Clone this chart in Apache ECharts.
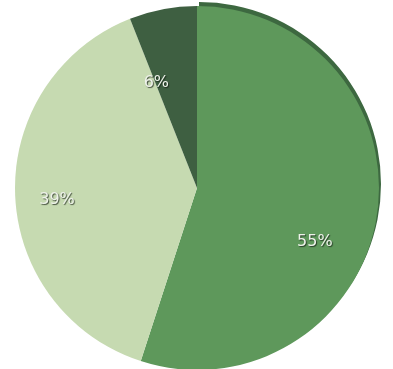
<!DOCTYPE html>
<html>
<head>
<meta charset="utf-8">
<script src="https://cdn.jsdelivr.net/npm/echarts@6/dist/echarts.min.js"></script>
<style>
  html, body { margin: 0; padding: 0; background: #fff; }
  #pie { width: 393px; height: 369px; }
</style>
</head>
<body>
<div id="pie"></div>
<script>
// slice data, clockwise from 12 o'clock
var names = ['A', 'B', 'C'];
var values = [55, 39, 6];
var colors = ['#5e985b', '#c6dab1', '#3e5f41'];
// label nudges away from the default mid-radius spot
var labelNudge = [[25, 39], [-46, 9], [-23, -13]];

var myChart = echarts.init(document.getElementById('pie'));

var seriesData = values.map(function (v, i) {
    var item = {
        name: names[i],
        value: v,
        itemStyle: { color: colors[i] }
    };
    if (i === 0) {
        // thin dark rim on the upper right edge
        item.itemStyle.shadowColor = '#3d6840';
        item.itemStyle.shadowOffsetX = 2;
        item.itemStyle.shadowOffsetY = -4;
        item.itemStyle.shadowBlur = 0;
    }
    return item;
});

var option = {
    animation: false,
    series: [
        {
            type: 'pie',
            center: [197, 188],
            radius: 182,
            startAngle: 90,
            clockwise: true,
            avoidLabelOverlap: false,
            emphasis: { scale: false },
            itemStyle: { borderWidth: 0 },
            label: {
                show: true,
                position: 'inside',
                formatter: '{c}%',
                fontFamily: 'DejaVu Sans',
                fontSize: 16,
                color: '#eef2ea',
                textShadowColor: 'rgba(20,30,20,0.75)',
                textShadowBlur: 1,
                textShadowOffsetX: 1,
                textShadowOffsetY: 1
            },
            labelLine: { show: false },
            labelLayout: function (params) {
                var n = labelNudge[params.dataIndex];
                return { dx: n[0], dy: n[1] };
            },
            data: seriesData
        }
    ]
};

myChart.setOption(option);
window.addEventListener('resize', function () {
    myChart.resize();
});
</script>
</body>
</html>
